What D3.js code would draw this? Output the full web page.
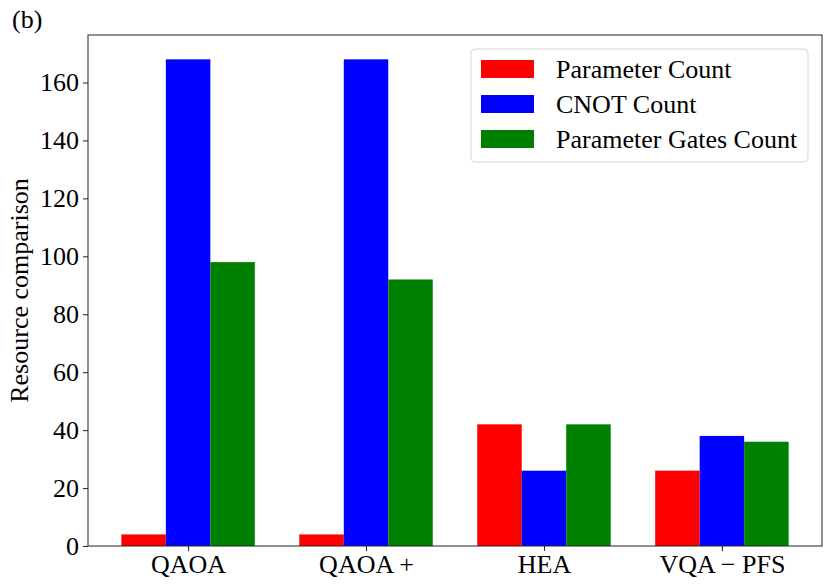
<!DOCTYPE html>
<html>
<head>
<meta charset="utf-8">
<script src="https://cdn.jsdelivr.net/npm/d3@7"></script>
<style>
  body { margin: 0; background: #fff; }
  text { font-family: "Liberation Serif", "DejaVu Serif", serif; fill: #000; }
</style>
</head>
<body>
<svg id="chart" width="831" height="588"></svg>
<script>
// chart data
const methods = ["QAOA", "QAOA +", "HEA", "VQA \u2212 PFS"];
const paramCount = [4, 4, 42, 26];
const cnotCount = [168, 168, 26, 38];
const paramGates = [98, 92, 42, 36];
const seriesNames = ["Parameter Count", "CNOT Count", "Parameter Gates Count"];
const seriesColors = ["#ff0000", "#0000ff", "#008000"];
const yTicks = [0, 20, 40, 60, 80, 100, 120, 140, 160];

const series = [paramCount, cnotCount, paramGates];
const fontSize = '26px';

var svg = d3.select('#chart');
var margin = { t: 35, r: 9, b: 42, l: 88 };
var width = 831 - margin.l - margin.r;
var height = 588 - margin.t - margin.b;

var g = svg.append('g')
  .attr('transform', `translate(${margin.l}, ${margin.t})`);

// matplotlib style: bar width 0.25, 5% margins
var barW = 0.25;
var x = d3.scaleLinear()
  .domain([-0.5625, methods.length - 1 + 0.5625])
  .range([0, width]);
var ymax = d3.max(series.flat()) * 1.05;
var y = d3.scaleLinear()
  .domain([0, ymax])
  .range([height, 0]);

// bars
series.forEach(function(vals, s) {
  g.selectAll('.bar' + s)
    .data(vals)
    .enter()
    .append('rect')
    .attr('class', 'bar' + s)
    .attr('x', (d, i) => x(i + (s - 1) * barW - barW / 2))
    .attr('width', x(barW) - x(0))
    .attr('y', d => y(d))
    .attr('height', d => y(0) - y(d))
    .attr('fill', seriesColors[s]);
});

// axes
var xAxis = d3.axisBottom(x)
  .tickValues(d3.range(methods.length))
  .tickFormat(i => methods[i])
  .tickSizeOuter(0)
  .tickSize(5)
  .tickPadding(4);
var yAxis = d3.axisLeft(y)
  .tickValues(yTicks)
  .tickSizeOuter(0)
  .tickSize(5)
  .tickPadding(4);

g.append('g')
  .attr('transform', `translate(0, ${height})`)
  .call(xAxis)
  .call(a => a.select('.domain').remove())
  .selectAll('text')
  .style('font-size', fontSize)
  .attr('font-family', null);

g.append('g')
  .call(yAxis)
  .call(a => a.select('.domain').remove())
  .selectAll('text')
  .style('font-size', fontSize)
  .attr('font-family', null);

g.selectAll('.tick line').attr('stroke', '#222');

// frame
g.append('rect')
  .attr('width', width)
  .attr('height', height)
  .attr('fill', 'none')
  .attr('stroke', '#222')
  .attr('stroke-width', 1);

// y label
svg.append('text')
  .attr('transform', `translate(28, ${margin.t + height / 2}) rotate(-90)`)
  .attr('text-anchor', 'middle')
  .style('font-size', fontSize)
  .text('Resource comparison');

// panel tag
svg.append('text')
  .attr('x', 12)
  .attr('y', 28)
  .style('font-size', fontSize)
  .text('(b)');

// legend
var leg = svg.append('g').attr('transform', 'translate(471, 49)');
leg.append('rect')
  .attr('width', 337)
  .attr('height', 113)
  .attr('rx', 4)
  .attr('fill', '#fff')
  .attr('fill-opacity', 0.8)
  .attr('stroke', '#d6d6d6');
seriesNames.forEach(function(name, i) {
  var row = leg.append('g').attr('transform', `translate(0, ${20 + i * 35})`);
  row.append('rect')
    .attr('x', 10)
    .attr('y', -9)
    .attr('width', 53)
    .attr('height', 18)
    .attr('fill', seriesColors[i]);
  row.append('text')
    .attr('x', 85)
    .attr('y', 9)
    .style('font-size', fontSize)
    .text(name);
});
</script>
</body>
</html>
